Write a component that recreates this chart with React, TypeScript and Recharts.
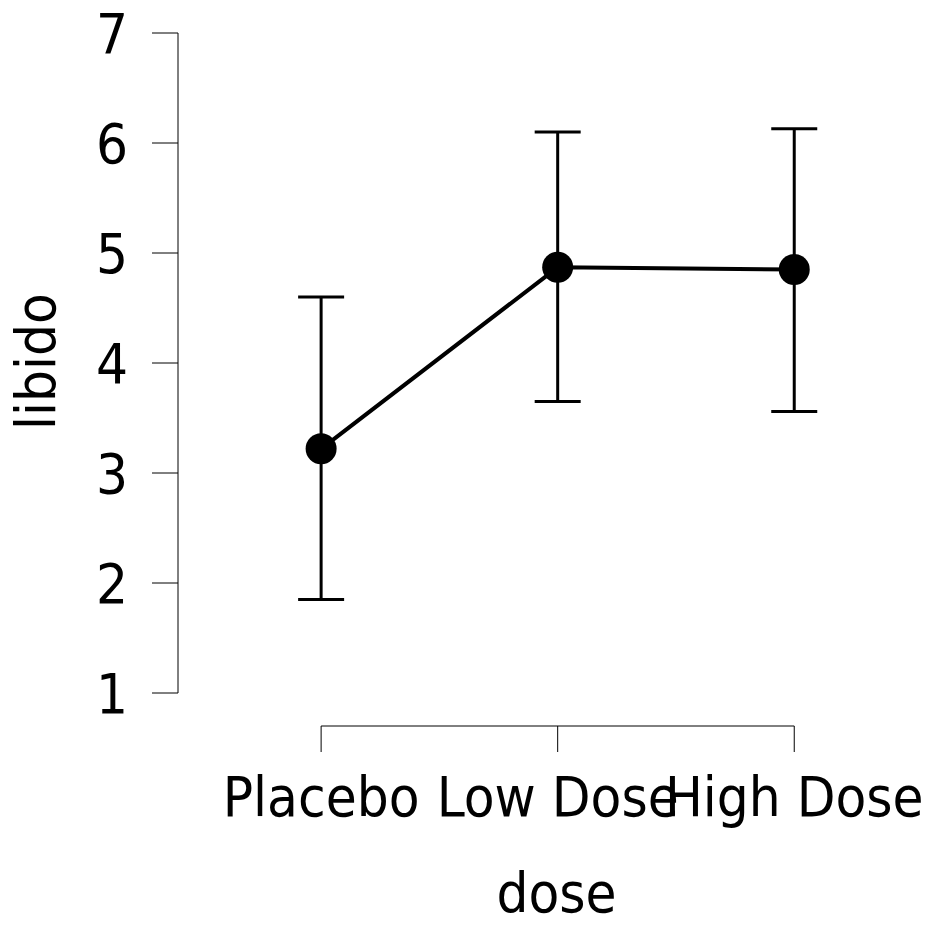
import React from 'react';
import { LineChart, Line, XAxis, YAxis, ErrorBar, ReferenceLine, Label } from 'recharts';

const categories = ['Placebo', 'Low Dose', 'High Dose'];
const means = [3.22, 4.87, 4.85];
const lowers = [1.85, 3.65, 3.56];
const uppers = [4.6, 6.1, 6.13];
const yTicks = [1, 2, 3, 4, 5, 6, 7];
const xTicks = [0, 1, 2];

const X_DOMAIN: [number, number] = [-0.605, 2.595];
const Y_DOMAIN: [number, number] = [0.7, 7];

const data = categories.map((c, i) => ({
  x: i,
  name: c,
  mean: means[i],
  err: [means[i] - lowers[i], uppers[i] - means[i]],
}));

const FONT = '"DejaVu Sans Condensed", "DejaVu Sans", sans-serif';
const FS = 56;

const YLabel = (props: any) => {
  const vb = props.viewBox || { x: 0, y: 0, width: 0, height: 0 };
  const cx = vb.x + 55;
  const cy = vb.y + vb.height / 2 - 18;
  return (
    <text x={cx} y={cy} transform={`rotate(-90 ${cx} ${cy})`} textAnchor="middle" fontSize={FS} fontFamily={FONT} fill="#000">
      libido
    </text>
  );
};

const XLabel = (props: any) => {
  const vb = props.viewBox || { x: 0, y: 0, width: 0, height: 0 };
  const cx = vb.x + vb.width / 2;
  const cy = vb.y + 186;
  return (
    <text x={cx} y={cy} textAnchor="middle" fontSize={FS} fontFamily={FONT} fill="#000">
      dose
    </text>
  );
};

export default function App() {
  return (
    <div style={{ position: 'absolute', left: 0, top: 0, width: 937, height: 937, background: '#fff' }}>
      <LineChart width={937} height={937} data={data} margin={{ top: 33, right: 2, bottom: 0, left: 0 }}>
        <XAxis
          dataKey="x"
          type="number"
          domain={X_DOMAIN}
          ticks={xTicks}
          tickFormatter={(v: number) => categories[v] ?? ''}
          axisLine={false}
          tickLine={{ stroke: '#000', strokeWidth: 1 }}
          tickSize={26}
          tickMargin={24}
          height={211}
          interval={0}
          tick={{ fill: '#000', fontSize: FS, fontFamily: FONT }}
          allowDataOverflow
        >
          <Label content={<XLabel />} />
        </XAxis>
        <YAxis
          type="number"
          domain={Y_DOMAIN}
          ticks={yTicks}
          axisLine={false}
          tickLine={{ stroke: '#000', strokeWidth: 1 }}
          tickSize={26}
          tickMargin={24}
          width={178}
          interval={0}
          tick={{ fill: '#000', fontSize: FS, fontFamily: FONT }}
          allowDataOverflow
        >
          <Label content={<YLabel />} />
        </YAxis>
        <ReferenceLine
          segment={[{ x: xTicks[0], y: Y_DOMAIN[0] }, { x: xTicks[xTicks.length - 1], y: Y_DOMAIN[0] }]}
          stroke="#000"
          strokeWidth={1}
          ifOverflow="visible"
        />
        <ReferenceLine
          segment={[{ x: X_DOMAIN[0], y: yTicks[0] }, { x: X_DOMAIN[0], y: yTicks[yTicks.length - 1] }]}
          stroke="#000"
          strokeWidth={1}
          ifOverflow="visible"
        />
        <Line
          dataKey="mean"
          stroke="#000"
          strokeWidth={4}
          dot={{ r: 15.5, fill: '#000', stroke: '#000', strokeWidth: 0 }}
          activeDot={false}
          isAnimationActive={false}
        >
          <ErrorBar dataKey="err" width={23} stroke="#000" strokeWidth={3} direction="y" isAnimationActive={false} />
        </Line>
      </LineChart>
    </div>
  );
}
